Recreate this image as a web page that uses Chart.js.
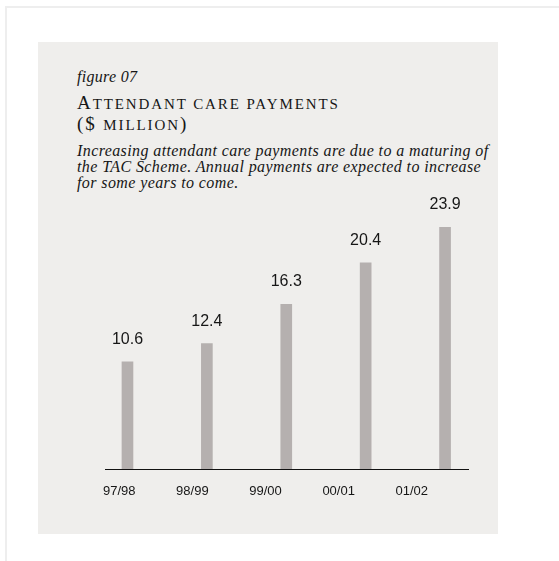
<!DOCTYPE html>
<html>
<head>
<meta charset="utf-8">
<title>Attendant care payments</title>
<script src="https://cdn.jsdelivr.net/npm/chart.js@4.4.1/dist/chart.umd.min.js"></script>
<style>
  html, body { margin: 0; padding: 0; background: #fff; overflow: hidden; }
  body { width: 559px; height: 561px; position: relative; }
  .frame { position: absolute; left: 5px; top: 6px; width: 600px; height: 600px;
           border-left: 2px solid #eeeeee; border-top: 2px solid #eeeeee; }
  .panel { position: absolute; left: 38px; top: 42px; width: 460px; height: 492px; background: #efeeec; }
  .txt { position: absolute; left: 77px; color: #161616; font-family: "Liberation Serif", "Times New Roman", serif; white-space: nowrap; }
  .fig { top: 68.6px; font-size: 16px; line-height: 16px; font-style: italic; letter-spacing: 0.3px; }
  .ttl { font-size: 19px; line-height: 21px; letter-spacing: 1.9px; }
  .ttl .sc { text-transform: uppercase; font-size: 15px; }
  .t1 { top: 92px; }
  .t2 { top: 113px; }
  .note { top: 142.6px; font-size: 16px; line-height: 16px; font-style: italic; letter-spacing: 0.4px; }
  .chart-box { position: absolute; left: 38px; top: 192px; width: 460px; height: 342px; }
</style>
</head>
<body>
<div class="frame"></div>
<div class="panel"></div>
<div class="txt fig">figure 07</div>
<div class="txt ttl t1">A<span class="sc">ttendant care payments</span></div>
<div class="txt ttl t2">($ <span class="sc">million</span>)</div>
<div class="txt note">Increasing attendant care payments are due to a maturing of<br>the TAC Scheme. Annual payments are expected to increase<br>for some years to come.</div>
<div class="chart-box"><canvas id="payments-chart"></canvas></div>

<script>
// financial years and payments ($ million)
const years = ['97/98', '98/99', '99/00', '00/01', '01/02'];
const payments = [10.6, 12.4, 16.3, 20.4, 23.9];

// writes the value above each bar
const barValues = {
    id: 'barValues',
    afterDatasetsDraw(chart) {
        const ctx = chart.ctx;
        const meta = chart.getDatasetMeta(0);
        ctx.save();
        ctx.font = '16px "Liberation Sans", Arial, sans-serif';
        ctx.fillStyle = '#161616';
        ctx.textAlign = 'center';
        ctx.textBaseline = 'alphabetic';
        meta.data.forEach((bar, i) => {
            ctx.fillText(payments[i].toFixed(1), bar.x, bar.y - 18);
        });
        ctx.restore();
    }
};

document.addEventListener('DOMContentLoaded', () => {
    const ctx = document.getElementById('payments-chart').getContext('2d');
    const paymentsChart = new Chart(ctx, {
        type: 'bar',
        data: {
            datasets: [{
                label: 'Attendant care payments',
                data: payments.map((v, i) => ({ x: i, y: v })),
                backgroundColor: '#b5b0af',
                borderWidth: 0,
                barThickness: 11,
                xAxisID: 'x',
                yAxisID: 'y'
            }]
        },
        options: {
            responsive: true,
            maintainAspectRatio: false,
            animation: false,
            layout: { padding: { left: 67, right: 30, top: 0, bottom: 0 } },
            plugins: {
                legend: { display: false },
                tooltip: { enabled: false }
            },
            scales: {
                // bar positions
                x: {
                    type: 'linear',
                    display: false,
                    offset: false,
                    grid: { offset: false },
                    min: -0.283,
                    max: 4.289
                },
                // year labels and the base line
                years: {
                    type: 'linear',
                    position: 'bottom',
                    offset: false,
                    min: -0.194,
                    max: 4.768,
                    grid: { display: false, drawTicks: false, offset: false },
                    border: { display: true, color: '#111', width: 1 },
                    afterBuildTicks: (scale) => {
                        scale.ticks = years.map((y, i) => ({ value: i }));
                    },
                    afterFit: (scale) => { scale.height = 65; },
                    ticks: {
                        autoSkip: false,
                        maxRotation: 0,
                        padding: 15,
                        color: '#161616',
                        font: { family: '"Liberation Sans", Arial, sans-serif', size: 13 },
                        callback: (value) => years[value]
                    }
                },
                y: {
                    display: false,
                    min: 0,
                    max: 27.4
                }
            }
        },
        plugins: [barValues]
    });
});
</script>
</body>
</html>
